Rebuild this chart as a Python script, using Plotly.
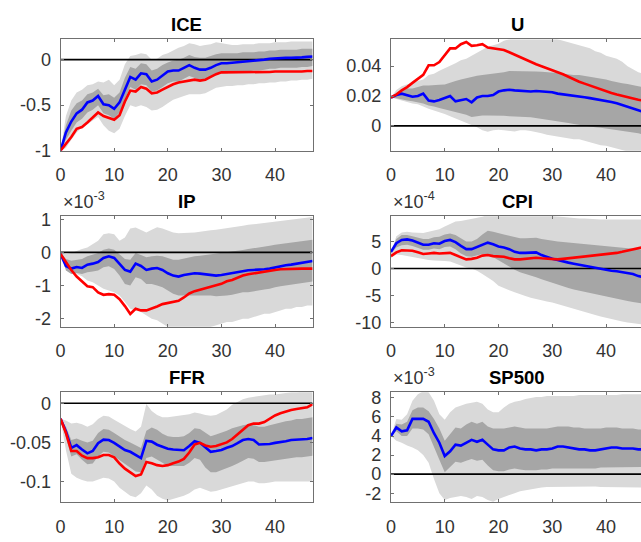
import plotly.graph_objects as go

# ---------------- data ----------------
H = list(range(48))
X_TICKS = [0, 10, 20, 30, 40]
X_TICK_TEXT = ["0", "10", "20", "30", "40"]

# ICE
ICE_blue = [-1.0, -0.80, -0.68, -0.59, -0.55, -0.47, -0.45, -0.40, -0.49, -0.50, -0.54, -0.47, -0.33, -0.19, -0.22, -0.15,
            -0.16, -0.24, -0.22, -0.17, -0.13, -0.12, -0.12, -0.09, -0.06, -0.09, -0.11, -0.11, -0.09, -0.06, -0.04, -0.04,
            -0.035, -0.03, -0.025, -0.02, -0.015, -0.01, 0.0, 0.01, 0.015, 0.02, 0.02, 0.02, 0.02, 0.025, 0.03, 0.035]
ICE_red = [-1.0, -0.93, -0.85, -0.76, -0.74, -0.69, -0.63, -0.58, -0.62, -0.64, -0.66, -0.61, -0.46, -0.34, -0.35, -0.30,
           -0.32, -0.37, -0.36, -0.33, -0.30, -0.27, -0.25, -0.24, -0.23, -0.22, -0.23, -0.22, -0.19, -0.16, -0.14, -0.14,
           -0.14, -0.14, -0.14, -0.14, -0.14, -0.14, -0.14, -0.135, -0.13, -0.13, -0.135, -0.135, -0.13, -0.13, -0.125, -0.125]
ICE_light_hi = [-1.0, -0.62, -0.45, -0.36, -0.33, -0.28, -0.27, -0.24, -0.25, -0.22, -0.28, -0.22, -0.05, 0.04, 0.05, 0.07,
                0.06, 0.0, 0.01, 0.05, 0.07, 0.10, 0.13, 0.15, 0.18, 0.17, 0.15, 0.16, 0.17, 0.19, 0.18, 0.17,
                0.16, 0.16, 0.17, 0.17, 0.17, 0.18, 0.18, 0.18, 0.19, 0.19, 0.19, 0.20, 0.20, 0.20, 0.20, 0.20]
ICE_light_lo = [-1.0, -0.97, -0.88, -0.80, -0.74, -0.71, -0.67, -0.63, -0.72, -0.78, -0.81, -0.76, -0.62, -0.50, -0.52, -0.50,
                -0.52, -0.56, -0.55, -0.52, -0.48, -0.44, -0.42, -0.40, -0.38, -0.38, -0.38, -0.37, -0.34, -0.31, -0.30, -0.29,
                -0.29, -0.28, -0.28, -0.27, -0.27, -0.26, -0.26, -0.25, -0.25, -0.24, -0.24, -0.23, -0.23, -0.22, -0.22, -0.21]
ICE_dark_hi = [-1.0, -0.72, -0.56, -0.48, -0.45, -0.38, -0.36, -0.32, -0.39, -0.38, -0.42, -0.36, -0.20, -0.08, -0.10, -0.04,
               -0.05, -0.12, -0.10, -0.06, -0.03, -0.01, 0.0, 0.02, 0.05, 0.03, 0.02, 0.02, 0.04, 0.06, 0.07, 0.07,
               0.07, 0.07, 0.08, 0.08, 0.08, 0.09, 0.09, 0.10, 0.10, 0.11, 0.11, 0.11, 0.11, 0.12, 0.12, 0.12]
ICE_dark_lo = [-1.0, -0.88, -0.78, -0.69, -0.65, -0.58, -0.55, -0.50, -0.59, -0.61, -0.65, -0.58, -0.45, -0.30, -0.33, -0.27,
               -0.28, -0.35, -0.34, -0.30, -0.26, -0.24, -0.24, -0.21, -0.18, -0.20, -0.22, -0.22, -0.20, -0.17, -0.15, -0.15,
               -0.14, -0.14, -0.13, -0.13, -0.12, -0.12, -0.11, -0.10, -0.10, -0.09, -0.09, -0.09, -0.09, -0.08, -0.08, -0.07]
ICE_yticks = [-1, -0.5, 0]
ICE_ylabels = ["-1", "-0.5", "0"]

# U
U_blue = [0.019, 0.0207, 0.0216, 0.0207, 0.0195, 0.020, 0.0216, 0.017, 0.0164, 0.0173, 0.0184, 0.020, 0.0164, 0.0173, 0.018, 0.0158,
          0.019, 0.020, 0.020, 0.0207, 0.023, 0.0238, 0.0242, 0.0238, 0.0234, 0.0231, 0.023, 0.0234, 0.023, 0.023, 0.0225, 0.0216,
          0.0212, 0.0207, 0.0203, 0.0199, 0.0192, 0.0186, 0.018, 0.0175, 0.0169, 0.016, 0.0151, 0.014, 0.013, 0.0119, 0.0104, 0.0093]
U_red = [0.019, 0.021, 0.0238, 0.026, 0.0288, 0.0316, 0.0342, 0.0406, 0.0406, 0.0428, 0.0471, 0.0519, 0.0519, 0.0547, 0.0562, 0.0536,
         0.054, 0.0547, 0.0525, 0.0519, 0.0515, 0.0508, 0.0493, 0.0476, 0.046, 0.0443, 0.0428, 0.0413, 0.040, 0.0385, 0.0374, 0.0359,
         0.0346, 0.0329, 0.0311, 0.0296, 0.0283, 0.027, 0.0255, 0.0242, 0.0231, 0.022, 0.021, 0.0201, 0.019, 0.0184, 0.0175, 0.0169]
U_light_hi = [0.019, 0.024, 0.0266, 0.028, 0.029, 0.030, 0.031, 0.034, 0.035, 0.037, 0.0385, 0.040, 0.042, 0.044, 0.045, 0.047,
              0.049, 0.051, 0.053, 0.054, 0.055, 0.057, 0.058, 0.059, 0.060, 0.060, 0.060, 0.060, 0.060, 0.059, 0.059, 0.058,
              0.057, 0.056, 0.055, 0.054, 0.053, 0.052, 0.050, 0.049, 0.047, 0.046, 0.045, 0.043, 0.040, 0.038, 0.036, 0.035]
U_light_lo = [0.019, 0.018, 0.017, 0.016, 0.015, 0.0145, 0.013, 0.0115, 0.010, 0.009, 0.008, 0.0065, 0.005, 0.0035, 0.002, 0.0006,
              -0.001, -0.003, -0.004, -0.003, -0.0026, -0.003, -0.0035, -0.0037, -0.003, -0.003, -0.0035, -0.004, -0.005, -0.006, -0.007, -0.0075,
              -0.008, -0.0085, -0.009, -0.009, -0.010, -0.011, -0.012, -0.013, -0.0134, -0.014, -0.015, -0.016, -0.017, -0.018, -0.019, -0.020]
U_dark_hi = [0.019, 0.022, 0.024, 0.025, 0.025, 0.026, 0.027, 0.027, 0.027, 0.0275, 0.0277, 0.029, 0.030, 0.031, 0.032, 0.033,
             0.0335, 0.034, 0.0345, 0.035, 0.035, 0.036, 0.0368, 0.0368, 0.0368, 0.0368, 0.0366, 0.0364, 0.0362, 0.036, 0.036, 0.0355,
             0.035, 0.0345, 0.034, 0.034, 0.0335, 0.033, 0.032, 0.0315, 0.031, 0.030, 0.029, 0.0285, 0.028, 0.027, 0.0265, 0.026]
U_dark_lo = [0.019, 0.0185, 0.018, 0.017, 0.0165, 0.016, 0.015, 0.0136, 0.013, 0.012, 0.011, 0.0105, 0.0095, 0.0085, 0.0075, 0.006,
             0.0065, 0.007, 0.007, 0.007, 0.007, 0.0068, 0.0065, 0.0062, 0.006, 0.006, 0.0058, 0.0055, 0.005, 0.0043, 0.0035, 0.003,
             0.0025, 0.002, 0.0013, 0.0006, 0.0, -0.0005, -0.001, -0.0013, -0.0015, -0.002, -0.0025, -0.003, -0.0037, -0.0045, -0.005, -0.0058]
U_yticks = [0, 0.02, 0.04]
U_ylabels = ["0", "0.02", "0.04"]

# IP (x 1e-3)
IP_blue = [-0.05, -0.41, -0.49, -0.44, -0.47, -0.37, -0.34, -0.29, -0.17, -0.12, -0.17, -0.34, -0.53, -0.58, -0.34, -0.41,
           -0.53, -0.49, -0.47, -0.53, -0.63, -0.70, -0.73, -0.68, -0.65, -0.63, -0.64, -0.66, -0.68, -0.70, -0.68, -0.65,
           -0.63, -0.60, -0.56, -0.54, -0.53, -0.53, -0.51, -0.49, -0.45, -0.41, -0.39, -0.37, -0.34, -0.32, -0.29, -0.26]
IP_red = [-0.05, -0.29, -0.53, -0.73, -0.87, -1.02, -1.05, -1.21, -1.28, -1.26, -1.28, -1.41, -1.62, -1.86, -1.70, -1.75,
          -1.75, -1.70, -1.63, -1.56, -1.53, -1.50, -1.46, -1.36, -1.24, -1.17, -1.12, -1.07, -1.02, -0.99, -0.95, -0.87,
          -0.83, -0.76, -0.70, -0.66, -0.63, -0.61, -0.58, -0.55, -0.53, -0.51, -0.50, -0.50, -0.49, -0.49, -0.49, -0.49]
IP_light_hi = [0.0, -0.05, -0.02, 0.05, 0.10, 0.15, 0.25, 0.35, 0.55, 0.58, 0.55, 0.35, 0.45, 0.72, 0.75, 0.68,
               0.60, 0.68, 0.76, 0.72, 0.66, 0.60, 0.58, 0.58, 0.60, 0.60, 0.62, 0.65, 0.67, 0.68, 0.70, 0.72,
               0.74, 0.77, 0.80, 0.83, 0.85, 0.87, 0.89, 0.91, 0.93, 0.95, 0.97, 0.99, 1.01, 1.03, 1.05, 1.07]
IP_light_lo = [0.0, -0.30, -0.55, -0.65, -0.72, -0.85, -0.90, -1.00, -1.10, -1.15, -1.20, -1.30, -1.50, -1.70, -1.75, -1.80,
               -1.90, -2.00, -2.05, -2.15, -2.25, -2.35, -2.40, -2.40, -2.40, -2.35, -2.30, -2.30, -2.25, -2.20, -2.15, -2.10,
               -2.10, -2.05, -2.00, -2.00, -1.95, -1.90, -1.85, -1.85, -1.80, -1.75, -1.70, -1.70, -1.65, -1.65, -1.60, -1.60]
IP_dark_hi = [0.0, -0.20, -0.25, -0.22, -0.20, -0.12, -0.08, -0.02, 0.08, 0.12, 0.08, -0.05, -0.20, -0.22, -0.02, -0.08,
              -0.15, -0.12, -0.10, -0.12, -0.18, -0.22, -0.22, -0.18, -0.15, -0.12, -0.10, -0.08, -0.06, -0.05, -0.02, 0.0,
              0.02, 0.05, 0.07, 0.10, 0.12, 0.15, 0.18, 0.20, 0.23, 0.25, 0.28, 0.30, 0.32, 0.35, 0.37, 0.38]
IP_dark_lo = [0.0, -0.55, -0.65, -0.62, -0.65, -0.60, -0.58, -0.55, -0.45, -0.42, -0.50, -0.70, -0.95, -1.00, -0.75, -0.80,
              -0.95, -0.95, -1.00, -1.05, -1.15, -1.25, -1.30, -1.30, -1.30, -1.28, -1.30, -1.30, -1.30, -1.32, -1.32, -1.30,
              -1.28, -1.25, -1.20, -1.20, -1.18, -1.15, -1.12, -1.10, -1.05, -1.02, -1.00, -0.98, -0.95, -0.93, -0.90, -0.88]
IP_yticks = [-2, -1, 0, 1]
IP_ylabels = ["-2", "-1", "0", "1"]

# CPI (x 1e-4)
CPI_blue = [3.1, 4.7, 5.3, 5.4, 5.2, 4.8, 4.4, 4.4, 4.7, 4.6, 5.1, 5.3, 4.9, 4.2, 3.6, 3.6,
            4.0, 4.5, 4.8, 4.5, 4.1, 3.9, 3.6, 3.1, 2.9, 2.9, 2.9, 3.0, 2.5, 2.1, 1.8, 1.6,
            1.3, 1.1, 0.9, 0.7, 0.5, 0.4, 0.2, -0.1, -0.2, -0.4, -0.5, -0.7, -0.8, -1.0, -1.4, -1.6]
CPI_red = [2.3, 3.0, 3.4, 3.4, 3.3, 3.0, 2.7, 2.8, 2.9, 2.8, 2.9, 2.9, 2.5, 2.1, 1.7, 1.8,
           2.0, 2.4, 2.5, 2.3, 2.2, 2.2, 1.9, 1.7, 1.7, 1.8, 1.9, 2.0, 1.9, 1.8, 1.7, 1.7,
           1.8, 1.9, 2.0, 2.2, 2.3, 2.4, 2.5, 2.6, 2.6, 2.8, 2.9, 3.1, 3.3, 3.5, 3.8, 4.0]
CPI_light_hi = [3.0, 6.0, 6.7, 6.8, 6.7, 6.6, 6.6, 6.8, 7.0, 7.3, 7.8, 8.3, 8.7, 8.8, 9.0, 9.2,
                9.4, 9.6, 10.0, 10.3, 10.5, 10.5, 10.5, 10.4, 10.3, 10.2, 10.1, 10.0, 9.9, 9.8, 9.7, 9.6,
                9.5, 9.4, 9.4, 9.3, 9.3, 9.2, 9.2, 9.1, 9.1, 9.1, 9.1, 9.1, 9.1, 9.1, 9.1, 9.1]
CPI_light_lo = [2.0, 2.6, 2.5, 2.3, 2.2, 2.0, 1.8, 1.6, 1.5, 1.4, 1.4, 1.3, 1.0, 0.6, 0.2, 0.0,
                -0.4, -1.0, -1.6, -2.3, -3.2, -3.6, -4.0, -4.4, -4.8, -5.1, -5.4, -5.7, -5.9, -6.1, -6.3, -6.6,
                -6.9, -7.2, -7.5, -7.7, -8.0, -8.3, -8.6, -8.9, -9.1, -9.4, -9.6, -9.8, -10.0, -10.2, -10.3, -10.4]
CPI_dark_hi = [3.0, 5.5, 6.2, 6.2, 6.0, 5.7, 5.5, 5.5, 5.8, 5.9, 6.3, 6.5, 6.2, 5.6, 5.0, 5.0,
               5.5, 6.3, 7.0, 6.8, 6.5, 6.3, 6.1, 5.8, 5.6, 5.6, 5.6, 5.7, 5.5, 5.3, 5.1, 5.0,
               4.9, 4.8, 4.7, 4.6, 4.5, 4.4, 4.3, 4.2, 4.2, 4.1, 4.0, 3.9, 3.8, 3.7, 3.6, 3.5]
CPI_dark_lo = [2.8, 3.9, 4.3, 4.4, 4.2, 3.9, 3.5, 3.5, 3.7, 3.6, 4.0, 4.1, 3.6, 2.8, 2.3, 2.2,
               2.4, 2.7, 2.7, 2.1, 1.5, 1.0, 0.4, -0.2, -0.7, -1.0, -1.3, -1.6, -2.0, -2.4, -2.7, -3.0,
               -3.3, -3.6, -3.9, -4.1, -4.3, -4.5, -4.7, -4.9, -5.1, -5.4, -5.6, -5.8, -6.0, -6.2, -6.4, -6.5]
CPI_yticks = [-10, -5, 0, 5]
CPI_ylabels = ["-10", "-5", "0", "5"]

# FFR
FFR_blue = [-0.0198, -0.036, -0.057, -0.0535, -0.059, -0.064, -0.061, -0.051, -0.0465, -0.047, -0.0506, -0.0556, -0.0597, -0.062, -0.066, -0.070,
            -0.048, -0.049, -0.053, -0.056, -0.058, -0.059, -0.0597, -0.060, -0.0547, -0.0486, -0.0506, -0.0568, -0.062, -0.061, -0.0597, -0.0568,
            -0.0547, -0.051, -0.047, -0.0457, -0.047, -0.0527, -0.0527, -0.052, -0.0506, -0.050, -0.0486, -0.047, -0.0465, -0.0465, -0.0457, -0.0444]
FFR_red = [-0.0198, -0.038, -0.061, -0.061, -0.067, -0.070, -0.070, -0.069, -0.066, -0.066, -0.069, -0.077, -0.0835, -0.0877, -0.093, -0.091,
           -0.075, -0.0765, -0.079, -0.080, -0.079, -0.0765, -0.0745, -0.071, -0.063, -0.0527, -0.0506, -0.054, -0.0556, -0.0547, -0.0527, -0.050,
           -0.0457, -0.040, -0.0333, -0.028, -0.026, -0.026, -0.024, -0.0198, -0.0156, -0.0128, -0.0103, -0.0086, -0.0074, -0.0066, -0.0053, -0.0012]
FFR_light_hi = [-0.02, -0.022, -0.026, -0.025, -0.027, -0.030, -0.027, -0.020, -0.016, -0.017, -0.021, -0.025, -0.030, -0.033, -0.036, -0.030,
                -0.001, -0.010, -0.015, -0.018, -0.018, -0.017, -0.016, -0.015, -0.014, -0.012, -0.013, -0.015, -0.016, -0.015, -0.012, -0.008,
                -0.002, 0.002, 0.005, 0.007, 0.008, 0.009, 0.010, 0.011, 0.011, 0.012, 0.013, 0.014, 0.014, 0.015, 0.015, 0.015]
FFR_light_lo = [-0.02, -0.060, -0.090, -0.095, -0.098, -0.100, -0.100, -0.098, -0.095, -0.096, -0.100, -0.108, -0.113, -0.118, -0.120, -0.115,
                -0.105, -0.110, -0.118, -0.122, -0.124, -0.122, -0.120, -0.118, -0.115, -0.110, -0.108, -0.110, -0.113, -0.112, -0.110, -0.108,
                -0.106, -0.104, -0.102, -0.100, -0.100, -0.102, -0.102, -0.101, -0.100, -0.100, -0.100, -0.100, -0.100, -0.100, -0.100, -0.100]
FFR_dark_hi = [-0.02, -0.030, -0.047, -0.045, -0.048, -0.050, -0.048, -0.038, -0.033, -0.034, -0.038, -0.043, -0.047, -0.050, -0.054, -0.057,
               -0.035, -0.031, -0.034, -0.039, -0.042, -0.043, -0.043, -0.042, -0.038, -0.032, -0.033, -0.038, -0.042, -0.040, -0.038, -0.035,
               -0.032, -0.030, -0.028, -0.027, -0.028, -0.030, -0.030, -0.028, -0.026, -0.025, -0.023, -0.022, -0.020, -0.020, -0.019, -0.018]
FFR_dark_lo = [-0.02, -0.045, -0.068, -0.065, -0.072, -0.078, -0.077, -0.068, -0.062, -0.063, -0.067, -0.073, -0.078, -0.082, -0.087, -0.088,
               -0.070, -0.068, -0.072, -0.076, -0.080, -0.080, -0.080, -0.080, -0.076, -0.070, -0.072, -0.082, -0.088, -0.088, -0.086, -0.083,
               -0.080, -0.077, -0.074, -0.070, -0.071, -0.075, -0.075, -0.074, -0.073, -0.072, -0.071, -0.070, -0.069, -0.069, -0.068, -0.067]
FFR_yticks = [-0.1, -0.05, 0]
FFR_ylabels = ["-0.1", "-0.05", "0"]

# SP500 (x 1e-3)
SP_blue = [4.0, 4.9, 4.5, 4.6, 5.8, 5.8, 5.8, 5.5, 4.3, 3.3, 1.9, 2.4, 3.1, 3.0, 3.3, 3.6,
           3.4, 3.6, 3.1, 2.6, 2.5, 2.5, 2.8, 2.9, 2.7, 2.6, 2.6, 2.5, 2.6, 2.6, 2.7, 2.9,
           2.9, 2.8, 2.7, 2.6, 2.6, 2.5, 2.5, 2.6, 2.7, 2.8, 2.8, 2.7, 2.7, 2.7, 2.6, 2.6]
SP_light_hi = [4.0, 5.8, 5.7, 6.3, 7.7, 8.4, 8.7, 8.6, 7.7, 6.3, 5.7, 6.5, 7.0, 7.2, 7.4, 7.5,
               7.6, 7.4, 6.8, 6.5, 6.5, 7.0, 7.4, 7.6, 7.7, 7.9, 8.0, 8.1, 8.1, 8.2, 8.2, 8.2,
               8.2, 8.2, 8.2, 8.3, 8.3, 8.3, 8.3, 8.3, 8.3, 8.3, 8.3, 8.4, 8.4, 8.4, 8.4, 8.4]
SP_light_lo = [4.0, 3.5, 3.3, 3.0, 2.8, 2.5, 2.0, 1.2, -0.5, -2.0, -2.7, -2.5, -2.4, -2.3, -2.4, -2.6,
               -2.3, -2.4, -2.7, -2.9, -2.6, -2.4, -2.2, -2.0, -1.8, -1.7, -1.6, -1.5, -1.4, -1.35, -1.3, -1.3,
               -1.3, -1.3, -1.3, -1.3, -1.3, -1.3, -1.3, -1.35, -1.35, -1.35, -1.35, -1.4, -1.4, -1.4, -1.4, -1.4]
SP_dark_hi = [4.0, 5.3, 5.2, 5.5, 6.7, 7.0, 7.0, 6.6, 5.8, 4.8, 3.5, 4.2, 4.9, 4.8, 5.2, 5.5,
              5.3, 5.5, 5.0, 4.8, 4.8, 4.8, 4.9, 5.0, 4.9, 4.8, 4.8, 4.8, 4.8, 4.8, 4.9, 5.0,
              5.0, 5.0, 4.9, 4.9, 4.8, 4.8, 4.8, 4.8, 4.9, 4.9, 4.9, 4.8, 4.8, 4.8, 4.7, 4.7]
SP_dark_lo = [4.0, 4.5, 4.0, 4.0, 4.8, 4.8, 4.7, 4.2, 2.8, 1.5, 0.2, 0.8, 1.3, 1.2, 1.4, 1.6,
              1.4, 1.5, 0.9, 0.4, 0.3, 0.3, 0.5, 0.6, 0.5, 0.4, 0.4, 0.4, 0.5, 0.5, 0.6, 0.6,
              0.6, 0.6, 0.6, 0.6, 0.6, 0.6, 0.6, 0.7, 0.7, 0.7, 0.7, 0.7, 0.7, 0.75, 0.75, 0.75]
SP_yticks = [-2, 0, 2, 4, 6, 8]
SP_ylabels = ["-2", "0", "2", "4", "6", "8"]

# ---------------- layout helpers ----------------
W, HGT = 641, 542
def px_x(p):
    return p / W
def px_y(p):
    return 1 - p / HGT

COL_DOM = [[px_x(56), px_x(310)], [px_x(389), 1.0]]
COL_RNG = [[0, 47], [0, 46.5]]
ROW_BOX = [(33.5, 148.3), (216, 330), (397.7, 511)]

panels = [
    dict(title="ICE", row=0, col=0, blue=ICE_blue, red=ICE_red, lh=ICE_light_hi, ll=ICE_light_lo,
         dh=ICE_dark_hi, dl=ICE_dark_lo, yr=[-1.0, 0.222], tv=ICE_yticks, tt=ICE_ylabels, exp=None),
    dict(title="U", row=0, col=1, blue=U_blue, red=U_red, lh=U_light_hi, ll=U_light_lo,
         dh=U_dark_hi, dl=U_dark_lo, yr=[-0.0166, 0.0579], tv=U_yticks, tt=U_ylabels, exp=None),
    dict(title="IP", row=1, col=0, blue=IP_blue, red=IP_red, lh=IP_light_hi, ll=IP_light_lo,
         dh=IP_dark_hi, dl=IP_dark_lo, yr=[-2.24, 1.09], tv=IP_yticks, tt=IP_ylabels, exp="-3"),
    dict(title="CPI", row=1, col=1, blue=CPI_blue, red=CPI_red, lh=CPI_light_hi, ll=CPI_light_lo,
         dh=CPI_dark_hi, dl=CPI_dark_lo, yr=[-10.77, 9.7], tv=CPI_yticks, tt=CPI_ylabels, exp="-4"),
    dict(title="FFR", row=2, col=0, blue=FFR_blue, red=FFR_red, lh=FFR_light_hi, ll=FFR_light_lo,
         dh=FFR_dark_hi, dl=FFR_dark_lo, yr=[-0.126, 0.014], tv=FFR_yticks, tt=FFR_ylabels, exp=None),
    dict(title="SP500", row=2, col=1, blue=SP_blue, red=None, lh=SP_light_hi, ll=SP_light_lo,
         dh=SP_dark_hi, dl=SP_dark_lo, yr=[-2.92, 8.6], tv=SP_yticks, tt=SP_ylabels, exp="-3"),
]

LIGHT = "#d9d9d9"
DARK = "#a6a6a6"
AXC = "#707070"
TXT = "#333333"
FONT = "Liberation Sans, Arial, Helvetica, sans-serif"

fig = go.Figure()
annotations = []
layout = {}

for i, p in enumerate(panels, start=1):
    xa = "x" if i == 1 else f"x{i}"
    ya = "y" if i == 1 else f"y{i}"
    xk = "xaxis" if i == 1 else f"xaxis{i}"
    yk = "yaxis" if i == 1 else f"yaxis{i}"
    top, bot = ROW_BOX[p["row"]]
    xd = COL_DOM[p["col"]]
    yd = [px_y(bot), px_y(top)]

    common = dict(xaxis=xa, yaxis=ya, hoverinfo="skip", showlegend=False)
    fig.add_trace(go.Scatter(x=H + H[::-1], y=p["lh"] + p["ll"][::-1], fill="toself",
                             fillcolor=LIGHT, line=dict(width=0), mode="lines", **common))
    fig.add_trace(go.Scatter(x=H + H[::-1], y=p["dh"] + p["dl"][::-1], fill="toself",
                             fillcolor=DARK, line=dict(width=0), mode="lines", **common))
    fig.add_trace(go.Scatter(x=[H[0], H[-1]], y=[0, 0], mode="lines",
                             line=dict(color="black", width=1.6), **common))
    fig.add_trace(go.Scatter(x=H, y=p["blue"], mode="lines",
                             line=dict(color="#0000ff", width=2.6), **common))
    if p["red"] is not None:
        fig.add_trace(go.Scatter(x=H, y=p["red"], mode="lines",
                                 line=dict(color="#ff0000", width=2.6), **common))

    layout[xk] = dict(domain=xd, range=COL_RNG[p["col"]], anchor=ya,
                      tickmode="array", tickvals=X_TICKS, ticktext=X_TICK_TEXT,
                      ticks="inside", ticklen=3, tickcolor=AXC, tickwidth=1,
                      showline=True, linecolor=AXC, linewidth=1, mirror="ticks",
                      showgrid=False, zeroline=False, ticklabelstandoff=8,
                      tickfont=dict(family=FONT, size=18, color=TXT))
    layout[yk] = dict(domain=yd, range=p["yr"], anchor=xa,
                      tickmode="array", tickvals=p["tv"], ticktext=p["tt"],
                      ticks="inside", ticklen=3, tickcolor=AXC, tickwidth=1,
                      showline=True, linecolor=AXC, linewidth=1,
                      mirror="ticks" if p["col"] == 0 else False,
                      showgrid=False, zeroline=False, ticklabelstandoff=5,
                      tickfont=dict(family=FONT, size=18, color=TXT))

    cx = (xd[0] * W + (xd[0] * W + 47 * 5.41)) / 2
    annotations.append(dict(text=p["title"], x=cx / W, y=px_y(top - 15.5),
                            xref="paper", yref="paper", xanchor="center", yanchor="middle",
                            showarrow=False,
                            font=dict(family=FONT, size=18.5, color="black", weight="bold")))
    if p["exp"] is not None:
        annotations.append(dict(text=f"×10<sup>{p['exp']}</sup>", x=xd[0], y=px_y(top - 2),
                                xref="paper", yref="paper", xanchor="left", yanchor="bottom",
                                showarrow=False, font=dict(family=FONT, size=18, color=TXT)))

fig.update_layout(width=W, height=HGT, margin=dict(l=0, r=0, t=0, b=0),
                  paper_bgcolor="white", plot_bgcolor="white",
                  annotations=annotations, **layout)

fig.write_html("out.html")
